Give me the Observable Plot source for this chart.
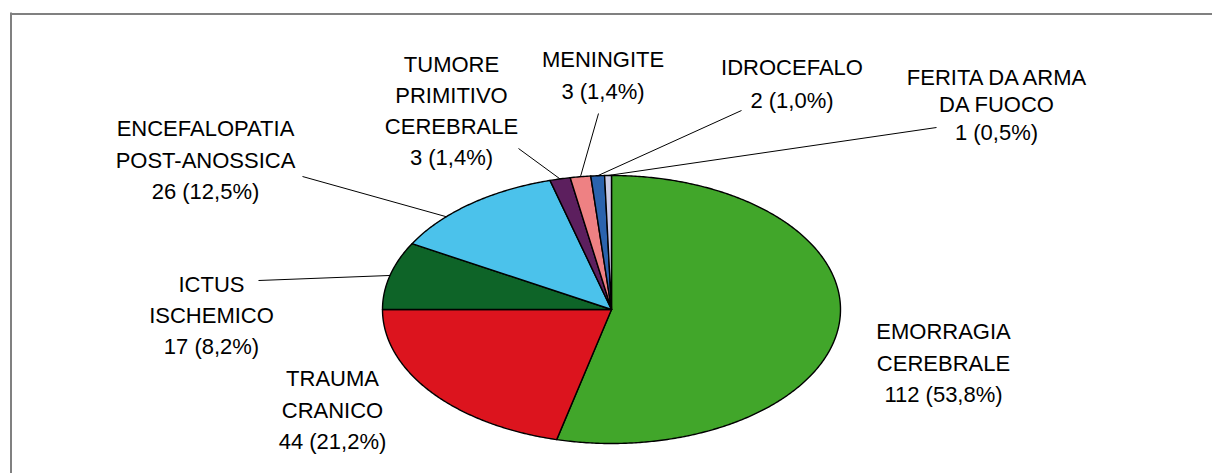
<!DOCTYPE html>
<html><head><meta charset="utf-8">
<script src="https://cdn.jsdelivr.net/npm/d3@7"></script>
<script src="https://cdn.jsdelivr.net/npm/@observablehq/plot@0.6"></script>
<style>body{margin:0;background:#fff} svg{display:block}</style>
</head><body><div id="chart"></div>
<script>
// ---- data ----
const categories = ["EMORRAGIA\nCEREBRALE", "TRAUMA\nCRANICO", "ICTUS\nISCHEMICO", "ENCEFALOPATIA\nPOST-ANOSSICA", "TUMORE\nPRIMITIVO\nCEREBRALE", "MENINGITE", "IDROCEFALO", "FERITA DA ARMA\nDA FUOCO"];
const counts = [112, 44, 17, 26, 3, 3, 2, 1];

// ---- style / layout ----
const colors = ["#41a62a", "#dc141e", "#0e6428", "#4bc2eb", "#5c1f5e", "#ee8183", "#2b63ad", "#ccccE6"];
const W = 1212, H = 473;
const pie = {cx: 611, cy: 309, rx: 229, ry: 134};
const labelLayout = [
  {x: 943, y: 360, lh: 31.5},
  {x: 332, y: 407, lh: 31.5},
  {x: 211, y: 313, lh: 31, lx: 258, ly: 280},
  {x: 205, y: 157, lh: 31.5, lx: 302, ly: 176, t: 0.32},
  {x: 451, y: 108, lh: 31, lx: 518, ly: 148},
  {x: 602.5, y: 72.5, lh: 31.6, lx: 598, ly: 113},
  {x: 791.5, y: 80.5, lh: 32.4, lx: 741, ly: 110},
  {x: 996, y: 103, lh: 27.5, lx: 936, ly: 127}
];
const FONT = "'Liberation Sans', Arial, Helvetica, sans-serif";

// ---- geometry from data ----
const total = d3.sum(counts);
const pt = (t) => [pie.cx + pie.rx * Math.sin(2 * Math.PI * t), pie.cy - pie.ry * Math.cos(2 * Math.PI * t)];
let acc = 0;
const slices = categories.map((c, i) => {
  const a0 = acc / total; acc += counts[i]; const a1 = acc / total;
  return {cat: c, value: counts[i], a0, a1};
});
const polyPts = [];
for (const s of slices) {
  const n = Math.max(2, Math.ceil((s.a1 - s.a0) * 720));
  polyPts.push({cat: s.cat, x: pie.cx, y: pie.cy});
  for (let k = 0; k <= n; k++) {
    const [x, y] = pt(s.a0 + (s.a1 - s.a0) * k / n);
    polyPts.push({cat: s.cat, x, y});
  }
  polyPts.push({cat: s.cat, x: pie.cx, y: pie.cy});
}
const fmtPct = (v) => (v / total * 100).toFixed(1).replace(".", ",") + "%";
const labels = slices.map((s, i) => ({...labelLayout[i], text: s.cat + "\n" + s.value + " (" + fmtPct(s.value) + ")"}));
const leaders = slices.map((s, i) => {
  const L = labelLayout[i];
  if (L.lx == null) return null;
  const t = L.t ?? 0.5;
  const [x2, y2] = pt(s.a0 + (s.a1 - s.a0) * t);
  return {x1: L.lx, y1: L.ly, x2, y2};
}).filter(Boolean);

const marks = [
  Plot.ruleY([13.5], {x1: 10, x2: W, stroke: "#808080", strokeWidth: 2}),
  Plot.ruleX([10.5], {y1: 12.5, y2: H, stroke: "#808080", strokeWidth: 2}),
  Plot.line(polyPts, {x: "x", y: "y", z: "cat", fill: "cat", stroke: "#000", strokeWidth: 1.4, strokeLinejoin: "round"}),
  Plot.link(leaders, {x1: "x1", y1: "y1", x2: "x2", y2: "y2", stroke: "#000", strokeWidth: 1})
];
for (const L of labels) {
  marks.push(Plot.text([L], {x: "x", y: "y", text: "text", fontSize: 22, lineHeight: L.lh / 22, textAnchor: "middle", fill: "#000", fontFamily: FONT}));
}

const chart = Plot.plot({
  width: W, height: H,
  margin: 0,
  x: {domain: [0, W], range: [0, W], axis: null},
  y: {domain: [0, H], range: [0, H], axis: null},
  color: {domain: categories, range: colors},
  style: {background: "#fff"},
  marks
});
document.getElementById("chart").appendChild(chart);
</script>
</body></html>
